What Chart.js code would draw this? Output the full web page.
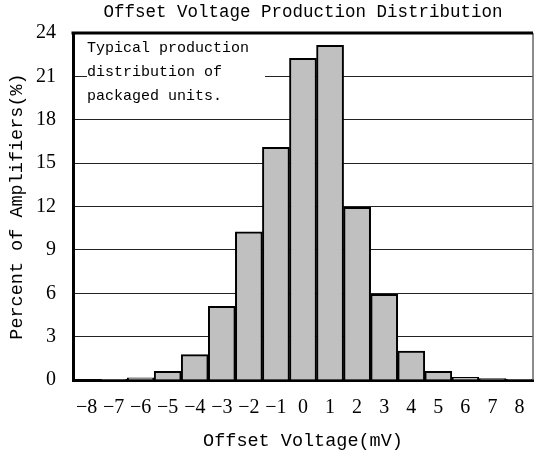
<!DOCTYPE html>
<html lang="en">
<head>
    <meta charset="UTF-8">
    <title>Offset Voltage Production Distribution</title>
    <script src="https://cdn.jsdelivr.net/npm/chart.js@4.4.0/dist/chart.umd.min.js"></script>
    <style>
        * { margin: 0; padding: 0; box-sizing: border-box; }
        body { background: #fff; }
        .chart-box { width: 534px; height: 456px; }
    </style>
</head>
<body>
    <div class="chart-box">
        <canvas id="distChart"></canvas>
    </div>

    <script>
        // offset voltage bins (mV) and percent of amplifiers per bin
        const offsetBins = ['−8', '−7', '−6', '−5', '−4', '−3', '−2', '−1', '0', '1', '2', '3', '4', '5', '6', '7', '8'];
        const percentUnits = [0, 0.05, 0.15, 0.6, 1.75, 5.1, 10.25, 16.1, 22.25, 23.15, 11.95, 5.93, 2.0, 0.6, 0.18, 0.1, 0.05];
        const noteLines = ['Typical production', 'distribution of', 'packaged units.'];

        const monoFont = 'Liberation Mono, monospace';
        const serifFont = 'Liberation Serif, serif';

        // white note box drawn over the grid, plus top/right frame lines
        const frameAndNote = {
            id: 'frameAndNote',
            beforeDatasetsDraw(chart) {
                const { ctx, chartArea } = chart;
                ctx.save();
                ctx.fillStyle = '#fff';
                ctx.fillRect(chartArea.left + 14, chartArea.top + 3, 178, 74);
                ctx.fillStyle = '#000';
                ctx.font = '15px ' + monoFont;
                ctx.textBaseline = 'middle';
                noteLines.forEach(function (line, i) {
                    ctx.fillText(line, chartArea.left + 14, chartArea.top + 15 + i * 24);
                });
                ctx.restore();
            },
            afterDraw(chart) {
                const { ctx, chartArea } = chart;
                ctx.save();
                ctx.strokeStyle = '#666';
                ctx.lineWidth = 1.5;
                ctx.beginPath();
                ctx.moveTo(chartArea.right, chartArea.top);
                ctx.lineTo(chartArea.right, chartArea.bottom);
                ctx.stroke();
                ctx.strokeStyle = '#000';
                ctx.lineWidth = 3;
                ctx.beginPath();
                ctx.moveTo(chartArea.left - 1.5, chartArea.top);
                ctx.lineTo(chartArea.right, chartArea.top);
                ctx.stroke();
                ctx.restore();
            }
        };

        const ctx = document.getElementById('distChart').getContext('2d');

        new Chart(ctx, {
            type: 'bar',
            data: {
                labels: offsetBins,
                datasets: [{
                    data: percentUnits,
                    backgroundColor: '#c0c0c0',
                    borderColor: '#000',
                    borderWidth: 2,
                    barPercentage: 1,
                    categoryPercentage: 1
                }]
            },
            options: {
                responsive: true,
                maintainAspectRatio: false,
                animation: false,
                devicePixelRatio: 1,
                layout: { padding: { left: 0, right: 1, top: 0, bottom: 0 } },
                plugins: {
                    legend: { display: false },
                    tooltip: { enabled: false },
                    title: {
                        display: true,
                        text: 'Offset Voltage Production Distribution',
                        color: '#000',
                        fullSize: false,
                        font: { family: monoFont, size: 17.5, weight: 'normal' },
                        padding: { top: 2, bottom: 10 }
                    }
                },
                scales: {
                    x: {
                        grid: { display: false, drawTicks: false },
                        border: { display: true, color: '#000', width: 3 },
                        ticks: {
                            color: '#000',
                            font: { family: serifFont, size: 20 },
                            padding: 16,
                            maxRotation: 0,
                            autoSkip: false
                        },
                        title: {
                            display: true,
                            text: 'Offset Voltage(mV)',
                            color: '#000',
                            font: { family: monoFont, size: 18.5 },
                            padding: { top: 0, bottom: 4 }
                        },
                        afterFit(scale) {
                            scale.height = 76;
                            scale.paddingLeft = 0;
                            scale.paddingRight = 0;
                        }
                    },
                    y: {
                        min: 0,
                        max: 24,
                        ticks: {
                            stepSize: 3,
                            color: '#000',
                            font: { family: serifFont, size: 20 },
                            padding: 17
                        },
                        grid: { color: '#222', lineWidth: 1, drawTicks: false },
                        border: { display: true, color: '#000', width: 3 },
                        title: {
                            display: true,
                            text: 'Percent of Amplifiers(%)',
                            color: '#000',
                            font: { family: monoFont, size: 18.5 },
                            padding: { top: 6, bottom: 0 }
                        },
                        afterFit(scale) { scale.width = 73; }
                    }
                }
            },
            plugins: [frameAndNote]
        });
    </script>
</body>
</html>
